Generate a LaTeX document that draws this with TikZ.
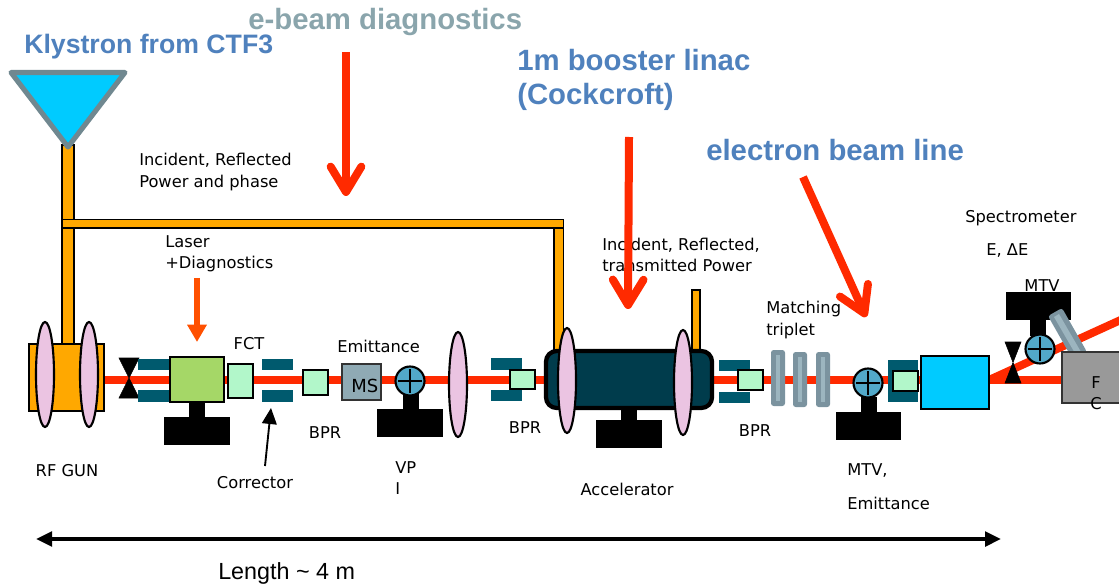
\documentclass[tikz,border=0pt]{standalone}
\usepackage{fontspec}
\setmainfont{Liberation Sans}
\newfontfamily\labelfont{DejaVu Sans}
\usetikzlibrary{arrows.meta}
\definecolor{beamred}{HTML}{FF2A00}
\definecolor{laserorange}{HTML}{FF5000}
\definecolor{guide}{HTML}{FFA800}
\definecolor{lenspink}{HTML}{EBC4E2}
\definecolor{corr}{HTML}{005A6E}
\definecolor{accel}{HTML}{003C4C}
\definecolor{laser}{HTML}{A5D767}
\definecolor{bpm}{HTML}{B2F7CA}
\definecolor{mscol}{HTML}{8FAAB4}
\definecolor{screen}{HTML}{52A9C9}
\definecolor{cyanbox}{HTML}{00CBFF}
\definecolor{quad}{HTML}{7B939F}
\definecolor{quadin}{HTML}{9CB5BF}
\definecolor{titleblue}{HTML}{4F81BD}
\definecolor{titlegrey}{HTML}{8AA5AC}
\definecolor{hornedge}{HTML}{708890}
\tikzset{
  lbl/.style={inner sep=0pt,anchor=west,align=left,font=\labelfont\fontsize{12.2}{16}\selectfont},
  clbl/.style={lbl,anchor=center,align=center},
  title/.style={inner sep=0pt,anchor=west,align=left,text=titleblue,font=\fontsize{22}{25.5}\selectfont\bfseries},
  part/.style={draw=black,line width=1.6pt},
  wave/.style={part,fill=guide,line width=1.2pt},
  lens/.style={part,fill=lenspink},
  corrbar/.style={fill=corr,draw=none},
  stand/.style={fill=black,draw=none},
  quadbar/.style={fill=quad,draw=none,rounded corners=2pt},
  quadcore/.style={fill=quadin,draw=none},
  bigarrow/.style={draw=beamred,line width=6pt,-{Straight Barb[length=19pt,width=23pt,round]}},
}
\begin{document}
\begin{tikzpicture}[x=.75pt,y=-.75pt]
  \useasboundingbox (0,0) rectangle (1119,584);
  \clip (0,0) rectangle (1119,584);
  % waveguides
  \draw[wave] (62,145) rectangle (74,344);
  \draw[wave] (62,219.5) rectangle (563.5,228);
  \draw[wave] (554,228) rectangle (563.5,351);
  \draw[wave] (692,290) rectangle (700,351);
  % klystron
  \draw[draw=hornedge,fill=cyanbox,line width=3.8pt,line join=round] (11,72.5)--(125,72.5)--(68,147)--cycle;
  % beam
  \coordinate (gunexit) at (104,380);
  \coordinate (dumpin) at (1070,380);
  \coordinate (bendin) at (989,380);
  \coordinate (bendout) at (1125,318);
  \draw[draw=beamred,line width=6pt] (gunexit)--(dumpin);
  \draw[draw=beamred,line width=6pt] (bendin)--(bendout);
  % gun
  \draw[part,fill=guide] (29,344) rectangle (104,411);
  \draw[lens] (45,374.5) ellipse [x radius=9,y radius=52.5];
  \draw[lens] (89,374.5) ellipse [x radius=9,y radius=52.5];
  \draw[fill=black] (119,358)--(139,358)--(119,398)--(139,398)--cycle;
  % laser table
  \fill[corrbar] (138,359) rectangle (169,370);
  \fill[corrbar] (138,390) rectangle (169,402);
  \draw[part,fill=laser] (170,357) rectangle (224,402);
  \fill[stand] (189,402) rectangle (205,417);
  \fill[stand] (164,417) rectangle (230,445);
  \draw[part,fill=bpm] (228,364) rectangle (253,398);
  \fill[corrbar] (262,359) rectangle (293,370);
  \fill[corrbar] (262,390) rectangle (293,402);
  \draw[part,fill=bpm] (303,370) rectangle (328,395);
  % emittance
  \draw[part,draw=black!80,fill=mscol] (342,364) rectangle (381,400);
  \fill[stand] (403,393) rectangle (419,409);
  \fill[stand] (377,409) rectangle (443,437);
  \draw[part,fill=screen] (410,381) circle [radius=14.5];
  \draw[line width=1.2pt] (398,381)--(422,381) (410,369)--(410,393);
  \draw[lens] (458,384.5) ellipse [x radius=9,y radius=52.5];
  \fill[corrbar] (491,358) rectangle (522,370);
  \fill[corrbar] (491,390) rectangle (522,401);
  \draw[part,fill=bpm] (510,370) rectangle (535,389);
  % accelerator
  \fill[stand] (621,405) rectangle (637,420);
  \fill[stand] (596,420) rectangle (662,448);
  \draw[draw=black,fill=accel,line width=3.2pt,rounded corners=8pt] (546,351) rectangle (712,408);
  \draw[lens] (567,380.5) ellipse [x radius=9,y radius=52.5];
  \draw[lens] (683,382.5) ellipse [x radius=9,y radius=52.5];
  \fill[corrbar] (719,360) rectangle (750,371);
  \fill[corrbar] (719,392) rectangle (750,403);
  \draw[part,fill=bpm] (738,370) rectangle (763,390);
  % triplet
  \fill[quadbar] (771,350) rectangle (785,406);
  \fill[quadcore] (776,355) rectangle (780,401);
  \fill[quadbar] (793,352) rectangle (807,407);
  \fill[quadcore] (798,357) rectangle (802,402);
  \fill[quadbar] (816,352) rectangle (830,407);
  \fill[quadcore] (821,357) rectangle (825,402);
  % screen
  \fill[stand] (861,397) rectangle (877,412);
  \fill[stand] (836,412) rectangle (901,440);
  \draw[part,fill=screen] (868,383) circle [radius=14.5];
  \draw[line width=1.2pt] (856,383)--(880,383) (868,371)--(868,395);
  \fill[corrbar] (888,360) rectangle (918,370);
  \fill[corrbar] (888,390) rectangle (918,402);
  \fill[corrbar] (888,360) rectangle (894,402);
  \draw[part,fill=bpm] (893,371) rectangle (918,391);
  \draw[part,fill=cyanbox] (921,356) rectangle (989,409);
  % spectrometer
  \draw[fill=black] (1005,342)--(1021,342)--(1005,383)--(1021,383)--cycle;
  \node[clbl] (mtva) at (1042,286) {MTV};
  \fill[stand] (1006,292) rectangle (1071,320);
  \fill[stand] (1030,320) rectangle (1046,336);
  \draw[draw=none,fill=quad,rounded corners=2pt] (1048,316)--(1062,308)--(1087,352)--(1073,360)--cycle;
  \draw[draw=none,fill=quadin] (1054,317)--(1059,314)--(1081,352)--(1076,355)--cycle;
  \draw[part,fill=screen] (1040,349) circle [radius=14.5];
  \draw[line width=1.2pt] (1028,349)--(1052,349) (1040,337)--(1040,361);
  \draw[draw=black!80,line width=1.6pt,fill=black!40] (1062,352) rectangle (1130,403);
  % titles
  \node[title,font=\fontsize{20}{25.5}\selectfont\bfseries] (klystron) at (24,47) {Klystron from CTF3};
  \node[title,text=titlegrey] (diagnostics) at (248,22) {e-beam diagnostics};
  \node[title] (booster) at (517,80) {1m booster linac\\(Cockcroft)};
  \node[title] (beamline) at (706,150) {electron beam line};
  \node[inner sep=0pt,anchor=west,font=\fontsize{17.5}{20}\selectfont] (lengthlbl) at (218,573) {Length \textasciitilde{} 4 m};
  % labels
  \node[lbl] (incident) at (139,172) {Incident, Reflected\\Power and phase};
  \node[lbl] (laserlbl) at (165,254) {Laser\\+Diagnostics};
  \node[clbl] (fct) at (249,344) {FCT};
  \node[lbl] (emit) at (337,346) {Emittance};
  \node[lbl,font=\labelfont\fontsize{13.5}{16}\selectfont] (ms) at (351,386) {MS};
  \node[clbl] (bpra) at (325,433) {BPR};
  \node[lbl] (vpi) at (395,478) {VP\\I};
  \node[clbl] (rfgun) at (67,471) {RF GUN};
  \node[clbl] (corrector) at (255,483) {Corrector};
  \node[clbl] (bprb) at (525,428) {BPR};
  \node[clbl] (accelerator) at (627,489) {Accelerator};
  \node[clbl] (bprc) at (755,431) {BPR};
  \node[lbl] (transmitted) at (602,255) {Incident, Reflected,\\transmitted Power};
  \node[lbl] (matching) at (766,320) {Matching\\triplet};
  \node[lbl] (spectro) at (965,218) {Spectrometer};
  \node[lbl] (energy) at (986,251) {E, ΔE};
  \node[lbl] (mtvb) at (847,471) {MTV,};
  \node[lbl] (emitb) at (847,503) {Emittance};
  \node[clbl] (fc) at (1096,393) {F\\C};
  % big arrows
  \coordinate (ebeamtop) at (346,52);
  \coordinate (ebeamtip) at (346,196);
  \coordinate (linactop) at (629,137);
  \coordinate (linactip) at (628,309);
  \coordinate (linetop) at (803,177);
  \coordinate (linetip) at (866,317);
  \coordinate (lasertop) at (197,278);
  \coordinate (lasertip) at (197,342);
  \coordinate (corrtail) at (265,466);
  \coordinate (corrtip) at (271,408);
  \coordinate (lengthl) at (36,539);
  \coordinate (lengthr) at (1001,539);
  \draw[bigarrow] (ebeamtop)--(ebeamtip);
  \draw[bigarrow] (linactop)--(linactip);
  \draw[bigarrow] (linetop)--(linetip);
  \draw[draw=laserorange,line width=4.5pt,-{Triangle[length=13pt,width=14pt]}] (lasertop)--(lasertip);
  \draw[line width=1.4pt,-{Triangle[length=12pt,width=11pt]}] (corrtail)--(corrtip);
  \draw[line width=2.6pt,{Triangle[length=12pt,width=11pt]}-{Triangle[length=12pt,width=11pt]}] (lengthl)--(lengthr);
\end{tikzpicture}
\end{document}
